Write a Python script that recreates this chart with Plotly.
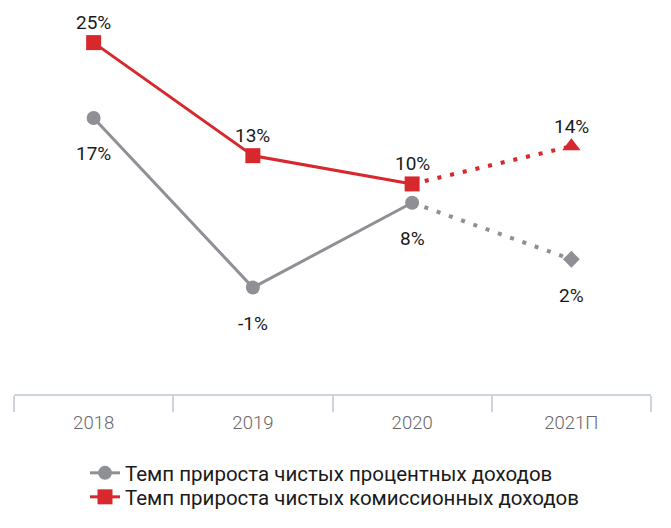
import plotly.graph_objects as go

years = ["2018", "2019", "2020", "2021П"]
interest_growth = [17, -1, 8, 2]      # Темп прироста чистых процентных доходов, %
commission_growth = [25, 13, 10, 14]  # Темп прироста чистых комиссионных доходов, %
n_actual = 3  # first three years are actual, last one is forecast

name_int = "Темп прироста чистых процентных доходов"
name_com = "Темп прироста чистых комиссионных доходов"

RED = "#d7282d"
GREY = "#8f9095"
FONT = "Roboto"
DOT = "4px,9px"

fig = go.Figure()

# forecast (dotted) segments
fig.add_trace(go.Scatter(
    x=years[n_actual - 1:], y=interest_growth[n_actual - 1:], showlegend=False,
    mode="lines", line=dict(color=GREY, width=4, dash=DOT), hoverinfo="skip"))
fig.add_trace(go.Scatter(
    x=years[n_actual - 1:], y=commission_growth[n_actual - 1:], showlegend=False,
    mode="lines", line=dict(color=RED, width=4, dash=DOT), hoverinfo="skip"))

# forecast markers
fig.add_trace(go.Scatter(
    x=years[n_actual:], y=interest_growth[n_actual:], showlegend=False,
    mode="markers", marker=dict(symbol="diamond", size=13, color=GREY)))
fig.add_trace(go.Scatter(
    x=years[n_actual:], y=commission_growth[n_actual:], showlegend=False,
    mode="markers", marker=dict(symbol="triangle-up", size=16, color=RED)))

# actual (solid) lines
fig.add_trace(go.Scatter(
    x=years[:n_actual], y=interest_growth[:n_actual], name=name_int,
    mode="lines+markers", line=dict(color=GREY, width=3),
    marker=dict(symbol="circle", size=14, color=GREY), legend="legend"))
fig.add_trace(go.Scatter(
    x=years[:n_actual], y=commission_growth[:n_actual], name=name_com,
    mode="lines+markers", line=dict(color=RED, width=3),
    marker=dict(symbol="square", size=15, color=RED), legend="legend2"))

annotations = []
for i, v in enumerate(commission_growth):
    annotations.append(dict(x=i, y=v, xref="x", yref="y", text=f"{v}%",
                            showarrow=False, yshift=20,
                            font=dict(family=FONT, size=19, color="#1a1a1a")))
for i, v in enumerate(interest_growth):
    annotations.append(dict(x=i, y=v, xref="x", yref="y", text=f"{v}%",
                            showarrow=False, yshift=-36,
                            font=dict(family=FONT, size=19, color="#1a1a1a")))

legend_style = dict(xanchor="left", yanchor="middle",
                    font=dict(family=FONT, size=20.5, color="#1a1a1a"),
                    bgcolor="rgba(0,0,0,0)")

fig.update_layout(
    width=671, height=528,
    margin=dict(l=14, r=20, t=4, b=134),
    paper_bgcolor="white", plot_bgcolor="white",
    font=dict(family=FONT, size=18, color="#1a1a1a"),
    annotations=annotations,
    xaxis=dict(type="category", categoryorder="array", categoryarray=years,
               range=[-0.5, 3.5], tickson="boundaries", ticks="outside",
               ticklen=16, tickwidth=1.5, tickcolor="#cdd4de",
               showline=True, linecolor="#cdd4de", linewidth=1.5,
               showgrid=False, zeroline=False, fixedrange=True,
               ticklabelstandoff=11,
               tickfont=dict(family=FONT, size=18.5, color="#666666", weight=300)),
    yaxis=dict(range=[-12.3, 29.1], visible=False, showgrid=False, zeroline=False),
    legend=dict(x=(85 - 14) / 637, y=(394 - 473) / 390, **legend_style),
    legend2=dict(x=(85 - 14) / 637, y=(394 - 497) / 390, **legend_style),
    showlegend=True,
)

fig.write_html("out.html", config={"displayModeBar": False},
               post_script="document.body.style.margin='0';")
